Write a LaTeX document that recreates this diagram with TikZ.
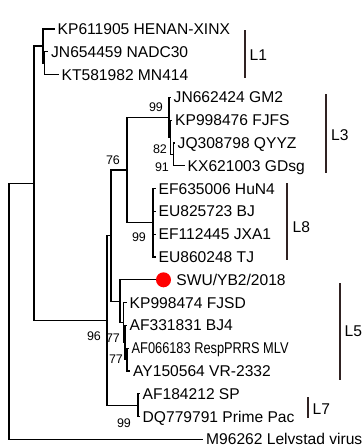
\documentclass[tikz,border=0pt]{standalone}
\usepackage{fontspec}
\setmainfont{Liberation Sans}
\usetikzlibrary{positioning}
\definecolor{barcol}{RGB}{48,34,34}

\begin{document}
\begin{tikzpicture}[x=1pt,y=-1pt,
  branch/.style={line width=1.3pt,line cap=rect},
  cladebar/.style={line width=2pt,draw=barcol},
  leaf/.style={anchor=west,inner xsep=3.5pt,inner ysep=0pt,text height=11pt,text depth=0pt,font=\fontsize{15.6}{18}\selectfont},
  boot/.style={inner sep=0pt,text height=9pt,text depth=0pt,font=\fontsize{12.5}{14}\selectfont},
  clade/.style={leaf,inner xsep=0pt},
  redmark/.style={circle,fill=red,inner sep=0pt,minimum size=15pt}]
\useasboundingbox (0,0) rectangle (364,448);
% inner nodes of the tree
\coordinate (root) at (9,311.3);
\coordinate (nA) at (34,183.3);
\coordinate (nL1) at (43,46.1);
\coordinate (n23) at (44.5,63.2);
\coordinate (nB) at (107,320.4);
\coordinate (nC) at (111,235.6);
\coordinate (nD) at (127,170.1);
\coordinate (nL3) at (169,117.4);
\coordinate (n567) at (170.5,137.3);
\coordinate (n67) at (173.5,154.4);
\coordinate (nL8) at (153,222.8);
\coordinate (nE) at (120,301.2);
\coordinate (nF) at (123.5,322.5);
\coordinate (n1416) at (125,342.5);
\coordinate (n1516) at (127,359.6);
\coordinate (nL7) at (138,405.2);
% leaves
\node[leaf] (KP611905) at (54,29) {KP611905 HENAN-XINX};
\node[leaf] (JN654459) at (47.5,51.8) {JN654459 NADC30};
\node[leaf] (KT581982) at (58,74.6) {KT581982 MN414};
\node[leaf] (JN662424) at (170,97.4) {JN662424 GM2};
\node[leaf] (KP998476) at (171.5,120.2) {KP998476 FJFS};
\node[leaf] (JQ308798) at (174,143) {JQ308798 QYYZ};
\node[leaf] (KX621003) at (184,165.8) {KX621003 GDsg};
\node[leaf] (EF635006) at (155,188.6) {EF635006 HuN4};
\node[leaf] (EU825723) at (155,211.4) {EU825723 BJ};
\node[leaf] (EF112445) at (155,234.2) {EF112445 JXA1};
\node[leaf] (EU860248) at (155,257) {EU860248 TJ};
\node[redmark] (swudot) at (163.5,279.8) {};
\node[leaf,right=1.5pt of swudot] (SWU) {SWU/YB2/2018};
\node[leaf] (KP998474) at (126,302.6) {KP998474 FJSD};
\node[leaf] (AF331831) at (126,325.4) {AF331831 BJ4};
\node[leaf] (AF066183) at (128,348.2) {\scalebox{0.82}[1]{AF066183 RespPRRS MLV}};
\node[leaf] (AY150564) at (129.5,371) {AY150564 VR-2332};
\node[leaf] (AF184212) at (139,393.8) {AF184212 SP};
\node[leaf] (DQ779791) at (139,416.6) {DQ779791 Prime Pac};
\node[leaf] (M96262) at (202.5,439.4) {M96262 Lelvstad virus};
% branches
\draw[branch] (root) |- (nA);
\draw[branch] (root) |- (M96262.west);
\draw[branch] (nA) |- (nL1);
\draw[branch] (nA) |- (nB);
\draw[branch] (nL1) |- (KP611905.west);
\draw[branch] (nL1) |- (n23);
\draw[branch] (n23) |- (JN654459.west);
\draw[branch] (n23) |- (KT581982.west);
\draw[branch] (nB) |- (nC);
\draw[branch] (nB) |- (nL7);
\draw[branch] (nC) |- (nD);
\draw[branch] (nC) |- (nE);
\draw[branch] (nD) |- (nL3);
\draw[branch] (nD) |- (nL8);
\draw[branch] (nL3) |- (JN662424.west);
\draw[branch] (nL3) |- (n567);
\draw[branch] (n567) |- (KP998476.west);
\draw[branch] (n567) |- (n67);
\draw[branch] (n67) |- (JQ308798.west);
\draw[branch] (n67) |- (KX621003.west);
\draw[branch] (nL8) |- (EF635006.west);
\draw[branch] (nL8) |- (EU825723.west);
\draw[branch] (nL8) |- (EF112445.west);
\draw[branch] (nL8) |- (EU860248.west);
\draw[branch] (nE) |- (swudot.west);
\draw[branch] (nE) |- (nF);
\draw[branch] (nF) |- (KP998474.west);
\draw[branch] (nF) |- (n1416);
\draw[branch] (n1416) |- (AF331831.west);
\draw[branch] (n1416) |- (n1516);
\draw[branch] (n1516) |- (AF066183.west);
\draw[branch] (n1516) |- (AY150564.west);
\draw[branch] (nL7) |- (AF184212.west);
\draw[branch] (nL7) |- (DQ779791.west);
% bootstrap values
\node[boot] (bsL3) at (156,107) {99};
\node[boot] (bs567) at (160,149) {82};
\node[boot] (bs67) at (162,167) {91};
\node[boot] (bsD) at (113,160) {76};
\node[boot] (bsL8) at (139,237) {99};
\node[boot] (bsB) at (94,336) {96};
\node[boot] (bs1416) at (113,338) {77};
\node[boot] (bs1516) at (116,359) {77};
\node[boot] (bsL7) at (124,423) {99};
% lineage bars
\draw[cladebar] (244.5,30) -- (244.5,78);
\node[clade] (L1) at (249.5,55) {L1};
\draw[cladebar] (326,94) -- (326,173);
\node[clade] (L3) at (331,135) {L3};
\draw[cladebar] (287,183) -- (287,260);
\node[clade] (L8) at (292.5,227) {L8};
\draw[cladebar] (340,283) -- (340,380);
\node[clade] (L5) at (344.5,331) {L5};
\draw[cladebar] (308,397) -- (308,418);
\node[clade] (L7) at (312.5,409) {L7};
\end{tikzpicture}
\end{document}
